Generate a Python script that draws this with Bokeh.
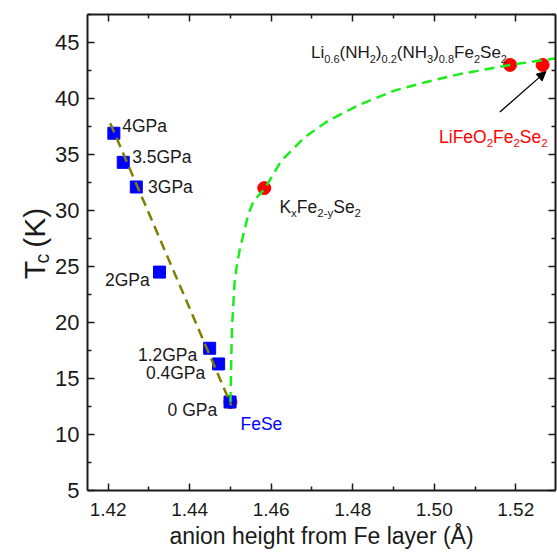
import math
from bokeh.plotting import figure
from bokeh.layouts import row
from bokeh.models import (Range1d, LinearAxis, FixedTicker, Label, Arrow,
                          NormalHead, PrintfTickFormatter)
from bokeh.embed import file_html
from bokeh.resources import INLINE

# ---------------- data ----------------
pressure_labels = ["4GPa", "3.5GPa", "3GPa", "2GPa", "1.2GPa", "0.4GPa", "0 GPa"]
pressure_height = [1.4214, 1.4237, 1.4269, 1.4326, 1.4449, 1.4471, 1.4499]
pressure_tc = [36.9, 34.3, 32.1, 24.5, 17.7, 16.3, 12.9]

compound_names = ["FeSe", "KxFe2-ySe2", "Li0.6(NH2)0.2(NH3)0.8Fe2Se2", "LiFeO2Fe2Se2"]
compound_height = [1.4500, 1.4583, 1.5186, 1.5266]
compound_tc = [12.9, 32.0, 43.0, 43.0]

trend_height = [1.4205, 1.4502]
trend_tc = [37.8, 12.6]

guide_height = [1.4500, 1.45018, 1.45035, 1.45067, 1.45100, 1.45149, 1.45222,
                1.45320, 1.45442, 1.45574, 1.45834, 1.4624, 1.4681, 1.4739,
                1.4820, 1.4902, 1.4983, 1.5065, 1.5187, 1.5300]
guide_tc = [12.9, 16.3, 19.3, 21.4, 23.5, 24.9, 26.4,
            27.9, 29.7, 30.9, 31.9, 34.4, 36.5, 38.0,
            39.5, 40.7, 41.5, 42.2, 43.0, 43.6]

x_ticks = [1.42, 1.44, 1.46, 1.48, 1.50, 1.52]
x_minor = [1.43, 1.45, 1.47, 1.49, 1.51, 1.53]
y_ticks = [5, 10, 15, 20, 25, 30, 35, 40, 45]
y_minor = [7.5, 12.5, 17.5, 22.5, 27.5, 32.5, 37.5, 42.5, 47.5]

FONT = "Liberation Sans"
INK = "#1a1a1a"

W = {"0": 556, "1": 556, "2": 556, "3": 556, "4": 556, "5": 556, "6": 556,
     "7": 556, "8": 556, "9": 556, ".": 278, " ": 278, "(": 333, ")": 333,
     "-": 333, "G": 778, "P": 667, "a": 556, "F": 611, "e": 556, "S": 667,
     "L": 556, "i": 222, "N": 722, "H": 722, "O": 778, "K": 667, "x": 500,
     "y": 500, "T": 611, "c": 500}


def text_w(t, size):
    return sum(W.get(ch, 556) for ch in t) / 1000.0 * size


TITLE_W = 52
H = 552

# ---------------- y-axis title strip (T_c (K)) ----------------
ft = figure(width=TITLE_W, height=H, output_backend="svg", toolbar_location=None,
            x_range=Range1d(0, TITLE_W), y_range=Range1d(0, H),
            x_axis_location=None, y_axis_location=None,
            min_border_left=0, min_border_right=0, min_border_top=0,
            min_border_bottom=0, background_fill_color="white",
            border_fill_color="white")
ft.grid.visible = False
ft.outline_line_color = None

T_SIZE, C_SIZE = 30, 19.5
t_base_x, t_start_y = 34, H - 307
c_start = t_start_y + text_w("T", T_SIZE)
k_start = c_start + text_w("c", C_SIZE) + text_w(" ", T_SIZE)
for txt, bx, by, fs in [("T", t_base_x, t_start_y, T_SIZE),
                        ("c", t_base_x + 7, c_start, C_SIZE),
                        ("(K)", t_base_x, k_start, T_SIZE)]:
    ft.add_layout(Label(x=bx, y=by, text=txt, angle=math.pi / 2,
                        text_font=FONT, text_font_size=f"{fs}px",
                        text_color=INK, text_align="left",
                        text_baseline="alphabetic"))

# ---------------- main plot ----------------
p = figure(width=557 - TITLE_W, height=H, output_backend="svg",
           toolbar_location=None,
           x_range=Range1d(1.41493, 1.52975), y_range=Range1d(5, 47.5),
           min_border_left=86 - TITLE_W, min_border_right=2, min_border_top=14,
           min_border_bottom=62, background_fill_color="white",
           border_fill_color="white")
p.xgrid.visible = False
p.ygrid.visible = False
p.outline_line_color = None


def style_axis(ax, ticks, minor, label_size, show_labels=True):
    ax.ticker = FixedTicker(ticks=ticks, minor_ticks=minor)
    ax.axis_line_width = 2
    ax.axis_line_color = INK
    ax.major_tick_line_color = INK
    ax.minor_tick_line_color = INK
    ax.major_tick_line_width = 1.5
    ax.minor_tick_line_width = 1.5
    ax.major_tick_in = 7
    ax.major_tick_out = 0
    ax.minor_tick_in = 4
    ax.minor_tick_out = 0
    ax.major_label_text_font = FONT
    ax.major_label_text_color = INK
    if show_labels:
        ax.major_label_text_font_size = f"{label_size}px"
    else:
        ax.major_label_text_font_size = "8px"
        ax.major_label_standoff = 0
        ax.major_label_overrides = {t: "" for t in ticks}


style_axis(p.xaxis[0], x_ticks, x_minor, 19)
p.xaxis[0].formatter = PrintfTickFormatter(format="%.2f")
p.xaxis[0].major_label_standoff = 12
p.xaxis[0].axis_label = "anion height from Fe layer (Å)"
p.xaxis[0].axis_label_text_font = FONT
p.xaxis[0].axis_label_text_font_size = "23px"
p.xaxis[0].axis_label_text_font_style = "normal"
p.xaxis[0].axis_label_text_color = INK
p.xaxis[0].axis_label_standoff = 4

style_axis(p.yaxis[0], y_ticks, y_minor, 22)
p.yaxis[0].major_label_standoff = 8

top = LinearAxis()
style_axis(top, x_ticks, x_minor, 0, show_labels=False)
p.add_layout(top, "above")
right = LinearAxis()
style_axis(right, y_ticks, y_minor, 0, show_labels=False)
p.add_layout(right, "right")

# marks
p.scatter(compound_height, compound_tc, marker="circle", size=13,
          fill_color="#ff0000", line_color="#ff0000")
p.scatter(pressure_height, pressure_tc, marker="square", size=12,
          fill_color="#0000ff", line_color="#0000ff")
p.line(trend_height, trend_tc, line_color="#808000", line_width=2.5,
       line_dash="10 6")
p.line(guide_height, guide_tc, line_color="#1aee1a", line_width=2.5,
       line_dash="10 6")

p.add_layout(Arrow(x_start=1.5161, y_start=38.8, x_end=1.5274, y_end=42.4,
                   line_color="black", line_width=1.3,
                   end=NormalHead(size=9, fill_color="black", line_color="black")))


def rich(x, y, parts, color, size=17.5, sub=11.5, shift=6, align="left"):
    total = sum(text_w(t, sub if s else size) for t, s in parts)
    off = -total if align == "right" else 0.0
    for t, s in parts:
        fs = sub if s else size
        d = shift if s else 0.0
        p.add_layout(Label(x=x, y=y, x_offset=off, y_offset=-d, text=t,
                           text_font=FONT, text_font_size=f"{fs}px",
                           text_color=color, text_align="left",
                           text_baseline="alphabetic"))
        off += text_w(t, fs)


label_pos = [(1.42343, 37.53, "left"), (1.42588, 34.76, "left"),
             (1.42979, 32.14, "left"), (1.43018, 23.81, "right"),
             (1.44186, 17.14, "right"), (1.44382, 15.47, "right"),
             (1.44676, 12.21, "right")]
for name, (lx, ly, al) in zip(pressure_labels, label_pos):
    rich(lx, ly, [(name, False)], INK, align=al)

rich(1.45246, 10.96, [("FeSe", False)], "#0000ff")
rich(1.46201, 30.29, [("K", False), ("x", True), ("Fe", False), ("2-y", True),
                      ("Se", False), ("2", True)], INK)
rich(1.46977, 44.08, [("Li", False), ("0.6", True), ("(NH", False), ("2", True),
                      (")", False), ("0.2", True), ("(NH", False), ("3", True),
                      (")", False), ("0.8", True), ("Fe", False), ("2", True),
                      ("Se", False), ("2", True)], INK, size=17, sub=11)
rich(1.50117, 36.54, [("LiFeO", False), ("2", True), ("Fe", False), ("2", True),
                      ("Se", False), ("2", True)], "#ff0000")

layout = row(ft, p, spacing=0)
open("out.html", "w").write(file_html(layout, INLINE))
